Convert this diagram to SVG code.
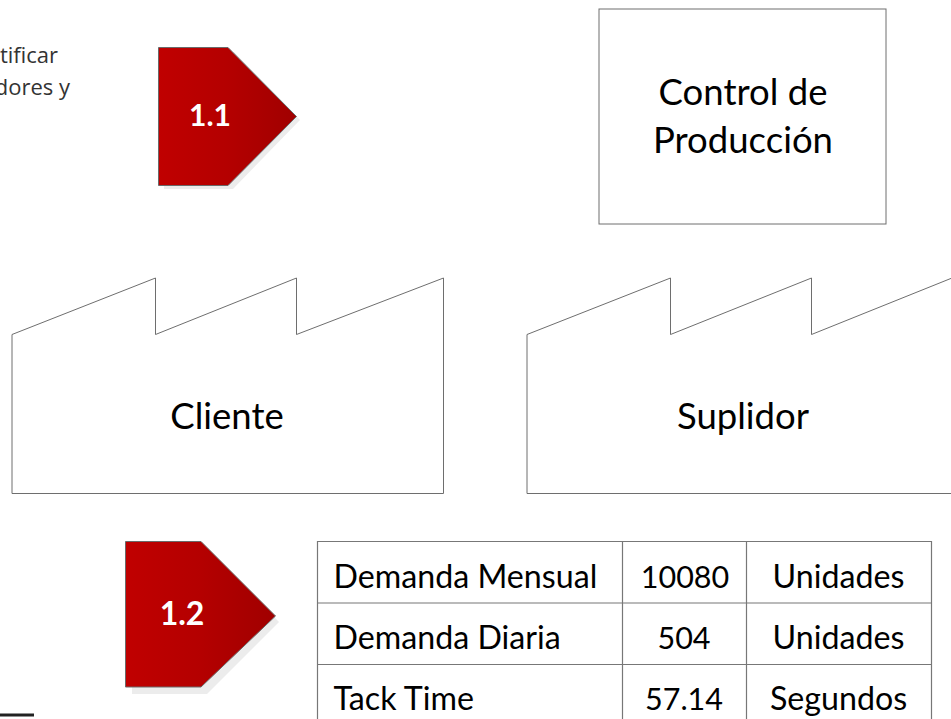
<svg xmlns="http://www.w3.org/2000/svg" width="951" height="719" viewBox="0 0 951 719">
<style>
text{font-family:Lato,"Open Sans",sans-serif;fill:#000}
.box{fill:#fff;stroke:#6e6e6e;stroke-width:1}
.big{font-size:36.5px;text-anchor:middle}
.cell{font-size:32.200px}
.digit{font-size:30.500px;text-anchor:middle}
.mid{text-anchor:middle}
.tag{fill:url(#red);stroke:#6a6a6a;stroke-width:1}
.shadow{fill:#ececec}
.num{fill:#fff;font-weight:700;text-anchor:middle}
.side{font-family:"Open Sans",sans-serif;font-size:22px;fill:#333}
.grid{stroke:#777;stroke-width:1.2;fill:none}
</style>
<defs>
<linearGradient id="red" x1="0" y1="0" x2="1" y2="0">
<stop offset="0" stop-color="#c00000"/><stop offset="0.5" stop-color="#b40000"/><stop offset="1" stop-color="#a00000"/>
</linearGradient>
</defs>
<rect width="951" height="719" fill="#fff"/>
<g id="side-note">
<text class="side" x="58" y="63" text-anchor="end">tificar</text>
<text class="side" x="70" y="95" text-anchor="end">dores y</text>
<rect x="0" y="713.500" width="34" height="3" fill="#222"/>
</g>
<g id="step-1-1">
<polygon class="shadow" points="164,52 234,52 300,120 233,189 164,189"/>
<polygon class="tag" points="158.500,47.500 228,47.500 296.500,116.500 228,185.500 158.500,185.500"/>
<text class="num" x="210" y="126" font-size="30">1.1</text>
</g>
<g id="step-1-2">
<polygon class="shadow" points="132,548 208,548 279,622 207,694 132,694"/>
<polygon class="tag" points="125.500,541.500 201,541.500 275.500,616 201,687 125.500,687"/>
<text class="num" x="182" y="625" font-size="32">1.2</text>
</g>
<g id="control">
<rect class="box" x="599" y="9" width="287" height="215"/>
<text class="big" x="743" y="105">Control de</text>
<text class="big" x="743" y="153">Producción</text>
</g>
<g id="cliente">
<polygon class="box" points="12,334.500 155.500,278 155.500,334.500 296.500,278 296.500,334.500 443.500,278 443.500,493.500 12,493.500"/>
<text class="big" x="227" y="429">Cliente</text>
</g>
<g id="suplidor">
<polygon class="box" points="527,334.500 670.500,278 670.500,334.500 811.500,278 811.500,334.500 952,278 952,493.500 527,493.500"/>
<text class="big" x="743" y="429">Suplidor</text>
</g>
<g id="table">
<path class="grid" d="M317.500 722V541.500H931.500V722M317.500 603H931.500M317.500 664.500H931.500M622.500 541.500V722M746.500 541.500V722"/>
<text class="cell" x="333.500" y="588">Demanda Mensual</text>
<text class="digit" x="685" y="588">10080</text>
<text class="cell mid" x="838.500" y="588">Unidades</text>
<text class="cell" x="333.500" y="649">Demanda Diaria</text>
<text class="digit" x="684" y="649">504</text>
<text class="cell mid" x="838.500" y="649">Unidades</text>
<text class="cell" x="333.500" y="710">Tack Time</text>
<text class="digit" x="684" y="710">57.14</text>
<text class="cell mid" x="838.500" y="710">Segundos</text>
</g>
<g id="connectors"></g>
</svg>
